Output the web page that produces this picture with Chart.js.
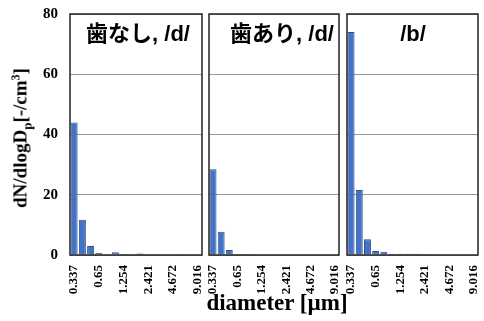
<!DOCTYPE html>
<html>
<head>
<meta charset="utf-8">
<script src="https://cdn.jsdelivr.net/npm/chart.js@4"></script>
<style>
  body { margin: 0; background: #fff; }
  #wrap { position: relative; width: 484px; height: 321px; overflow: hidden; }
  canvas { position: absolute; top: 0; }
  .ytitle {
    position: absolute; left: 22px; top: 138px;
    transform: translate(-50%, -50%) rotate(-90deg);
    white-space: nowrap;
    font: bold 19px "Liberation Serif", "Times New Roman", serif;
  }
  .ytitle sub { font-size: 13px; }
  .ytitle sup { font-size: 12px; }
  .xtitle {
    position: absolute; left: 277px; top: 303px;
    transform: translate(-50%, -50%);
    white-space: nowrap;
    font: bold 23px "Liberation Serif", "Times New Roman", serif;
  }
</style>
</head>
<body>
<div id="wrap">
  <canvas id="c1" width="206" height="295" style="left:0px"></canvas>
  <canvas id="c2" width="136" height="295" style="left:206px"></canvas>
  <canvas id="c3" width="140" height="295" style="left:344px"></canvas>
  <div class="ytitle">dN/dlogD<sub>p</sub>[-/cm<sup>3</sup>]</div>
  <div class="xtitle">diameter [µm]</div>
</div>
<script>
// diameter bins [um]
const diameters = ["0.337", "0.42", "0.523", "0.65", "0.81", "1.008", "1.254", "1.561",
  "1.944", "2.421", "3.014", "3.753", "4.672", "5.817", "7.243", "9.016"];

// dN/dlogDp for each condition
const noTeethD = [44, 11.7, 3, 0.7, 0.1, 0.9, 0.3, 0.1, 0.5, 0.1, 0.1, 0.2, 0.2, 0.1, 0, 0];
const withTeethD = [28.5, 7.7, 1.7, 0.3, 0.3, 0.1, 0, 0, 0, 0, 0, 0, 0, 0, 0, 0];
const soundB = [74, 21.6, 5.2, 1.3, 1.1, 0.4, 0.4, 0.4, 0.4, 0.3, 0.1, 0, 0, 0, 0, 0];

const yTicks = [0, 20, 40, 60, 80];
const panelTitles = ["歯なし, /d/", "歯あり, /d/", "/b/"];

// frame + label inside the plot area
const panelPlugin = {
  id: "panel",
  afterDraw(chart, args, opts) {
    const { ctx, chartArea: a } = chart;
    ctx.save();
    ctx.strokeStyle = "#222";
    ctx.lineWidth = 1.5;
    ctx.strokeRect(a.left, a.top, a.right - a.left, a.bottom - a.top);
    ctx.fillStyle = "#000";
    ctx.font = 'bold 22px "Liberation Sans", "Noto Sans CJK JP", sans-serif';
    ctx.textAlign = "center";
    ctx.textBaseline = "middle";
    ctx.fillText(opts.text, opts.x, 35);
    ctx.restore();
  }
};

function noPad(s) {
  s.paddingTop = 0;
  s.paddingBottom = 0;
  s.paddingLeft = 0;
  s.paddingRight = 0;
}

function makePanel(id, data, title, titleX, pad, showY) {
  new Chart(document.getElementById(id), {
    type: "bar",
    data: {
      labels: diameters,
      datasets: [{
        data: data,
        backgroundColor: "#4472c4",
        borderColor: "#2f528f",
        borderWidth: 1,
        barPercentage: 0.85,
        categoryPercentage: 1.0
      }]
    },
    options: {
      responsive: false,
      animation: false,
      layout: { padding: pad },
      plugins: {
        legend: { display: false },
        tooltip: { enabled: false },
        panel: { text: title, x: titleX }
      },
      scales: {
        x: {
          grid: { display: false },
          border: { display: false },
          ticks: {
            autoSkip: false,
            minRotation: 90,
            maxRotation: 90,
            padding: 2,
            color: "#000",
            font: { family: '"Liberation Serif", serif', weight: "bold", size: 13 },
            callback: (v, i) => (i % 3 === 0 ? diameters[i] : "")
          },
          afterFit: (s) => { s.height = 40; noPad(s); }
        },
        y: {
          min: 0,
          max: 80,
          afterBuildTicks: (s) => { s.ticks = yTicks.map((v) => ({ value: v })); },
          grid: { color: "#999", lineWidth: 1, drawTicks: false },
          border: { display: false },
          ticks: {
            display: showY,
            padding: 12,
            color: "#000",
            font: { family: '"Liberation Serif", serif', weight: "bold", size: 15 }
          },
          afterFit: (s) => { s.width = showY ? 70 : 0; noPad(s); }
        }
      }
    },
    plugins: [panelPlugin]
  });
}

makePanel("c1", noTeethD, panelTitles[0], 138, { left: 0, right: 4, top: 14, bottom: 0 }, true);
makePanel("c2", withTeethD, panelTitles[1], 76, { left: 3, right: 3, top: 14, bottom: 0 }, false);
makePanel("c3", soundB, panelTitles[2], 69, { left: 3, right: 6, top: 14, bottom: 0 }, false);
</script>
</body>
</html>
